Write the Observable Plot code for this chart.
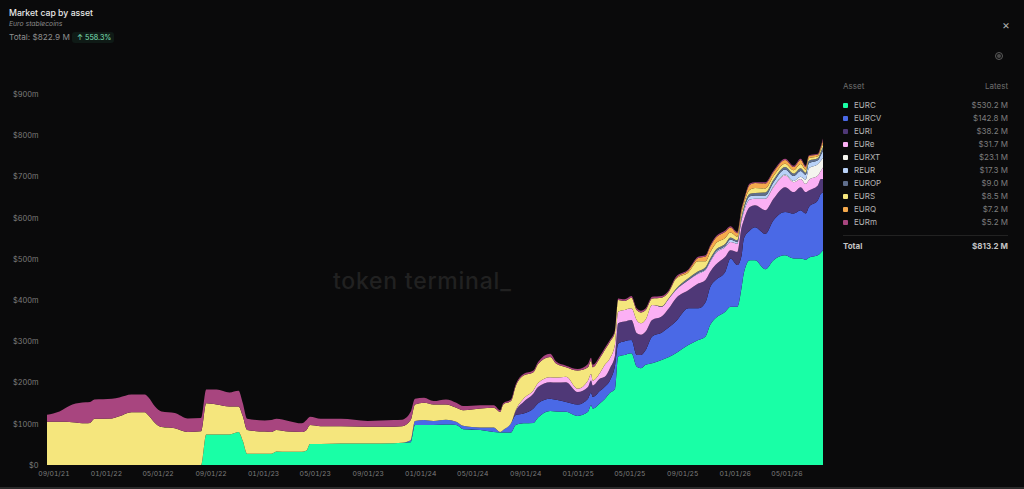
<!DOCTYPE html>
<html><head><meta charset="utf-8">
<script src="https://cdn.jsdelivr.net/npm/d3@7"></script>
<script src="https://cdn.jsdelivr.net/npm/@observablehq/plot@0.6"></script>
<style>
html,body{margin:0;padding:0;background:#0a0a0b;width:1024px;height:489px;overflow:hidden;font-family:Inter,sans-serif}
#root{position:relative;width:1024px;height:489px}
#chart{position:absolute;left:0;top:0}
#chart svg{background:transparent}
.t{position:absolute;white-space:nowrap;line-height:1}
.sw{position:absolute;width:5px;height:5px;border-radius:1px}
</style></head><body><div id="root"><div id="chart"></div></div>
<script>
const dates = [
"2021-08-17","2021-09-15","2021-10-15","2021-11-15","2021-11-25","2021-12-05","2022-01-15","2022-02-01","2022-03-01","2022-04-01",
"2022-04-10","2022-04-25","2022-05-10","2022-06-10","2022-07-10","2022-08-10","2022-08-22","2022-09-15","2022-10-15","2022-11-05",
"2022-11-15","2022-11-25","2023-01-05","2023-01-20","2023-02-01","2023-03-01","2023-04-01","2023-04-12","2023-04-20","2023-05-15",
"2023-07-01","2023-09-01","2023-11-01","2023-11-20","2023-12-10","2023-12-20","2024-01-10","2024-02-01","2024-03-01","2024-03-25",
"2024-04-10","2024-05-20","2024-06-20","2024-07-05","2024-07-12","2024-07-30","2024-08-10","2024-08-28","2024-09-20","2024-10-01",
"2024-10-29","2024-11-12","2024-12-05","2025-01-01","2025-01-25","2025-02-01","2025-02-05","2025-02-22","2025-03-05","2025-03-17",
"2025-03-29","2025-04-05","2025-04-20","2025-05-06","2025-05-18","2025-05-28","2025-06-08","2025-06-23","2025-07-15","2025-08-01",
"2025-08-17","2025-09-15","2025-10-08","2025-10-25","2025-11-05","2025-11-17","2025-12-10","2025-12-22","2026-01-07","2026-01-17",
"2026-01-22","2026-02-05","2026-02-17","2026-03-13","2026-04-01","2026-04-28","2026-05-18","2026-06-03","2026-06-15","2026-06-22",
"2026-07-13","2026-07-20","2026-07-25"];
const none = n => Array(n).fill(0);
const EURC = [...none(16),
74,74,74,80,58,27,27,27,33,32,32,35,51,51,52,52,53,54,55,97,97,97,98,97,87,85,80,79,79,79,97,101,102,115,131,130,129,119,129,145,137,150,160,175,185,263,267,271,239,235,243,247,255,262,271,291,303,312,340,356,372,384,384,432,465,497,497,475,497,509,501,501,498,503,509,515,521];
const EURCV = [...none(34),
5,10,12,10,12,8,8,6,11,1, 6,22,24,24,35,35,30,28,24,28, 32,30,28,30,30,30,58,31,33,32, 28,32,36,65,66,72,77,89,77,83, 92,92,97,117,101,77,84,72,80,86, 97,105,109,117,112,122,133,143,140];
const EURI = [...none(46),
10,28,36,39,40,42,48,30,28,30, 28,30,24,30,24,50,48,49,53,49, 45,40,39,46,56,44,60,54,37,37, 36,20,32,68,45,57,53,57,52,60, 52,56,52,41,36,36,33];
const EURe = [...none(46),
2,8,8,10,12,12,13,8,16,16, 12,14,29,24,28,28,28,28,32,28, 29,36,24,24,20,24,24,24,24,28, 24,20,20,18,20,18,16,28,28,28, 24,20,20,25,24,20,28];
const EURXT = [...none(84), 2,3,3,5,10,28,28,24,23.1];
const REUR = [...none(70), 1,1,2,2,3,3,3,6,4,5, 6,8,8,8,10,12,12,14,12,13, 9,14,17.3];
const EUROP = [...none(68), 1,1,2,4,4,5,5,5,5,5, 4,4,5,6,6,7,6,6,6,7, 5,6,5,8,9];
const EURS = [105,105,104,101,102,112,113,118,128,128, 120,102,92,89,80,82,76,73,68,62, 60,58,54,53,52,49,48,50,46,43, 42,41,40,40,49,40,42,40,37,34, 38,46,48,49,62,54,58,56,44,46, 49,34,23,44,32,32,32,36,36,40, 29,28,22,26,24,26,23,16,21,15, 24,14,24,14,15,15,14,12,9,9, 8,10,12,10,9,8,8,10,7,6, 5,6,8.5];
const EURQ = [...none(69), 1, 2,5,8,12,14,14,15,12,8,8, 7,12,12,12,10,9,8,10,7,5, 4,5,7.2];
const EURm = [17,25,43,51,51,47,48,46,43,43, 44,40,38,37,33,32,33,36,34,38, 32,27,27,29,27,26,21,24,20,18, 18,14,16,16,20,14,12,8,12,12, 10,8,6,4,3,4,4,4,4,5, 8,5,4,4,8,7,6,5,5,4, 4,4,4,4,4,4,4,4,4,3, 3,2,3,3,3,3,3,3,3,3, 2,3,2,3,3,3,3,3,3,2, 2,3,5.2];

const assets = ["EURC","EURCV","EURI","EURe","EURXT","REUR","EUROP","EURS","EURQ","EURm"];
const latest = ["$530.2 M","$142.8 M","$38.2 M","$31.7 M","$23.1 M","$17.3 M","$9.0 M","$8.5 M","$7.2 M","$5.2 M"];
const colors = ["#19ffa6","#4a69e6","#4f3877","#fbb0f4","#f4f4ee","#b9d2f8","#5f6e8c","#f5e67d","#f5a94c","#a8457f"];
const series = [EURC,EURCV,EURI,EURe,EURXT,REUR,EUROP,EURS,EURQ,EURm];
const xTicks = ["2021-09-01","2022-01-01","2022-05-01","2022-09-01","2023-01-01","2023-05-01","2023-09-01","2024-01-01","2024-05-01","2024-09-01","2025-01-01","2025-05-01","2025-09-01","2026-01-01","2026-05-01"];
const yTicks = [0,100,200,300,400,500,600,700,800,900];

const parse = d3.utcParse("%Y-%m-%d");
const rows = assets.flatMap((a,i)=>dates.map((d,j)=>({date:parse(d),asset:a,value:series[i][j]})));

const plot = Plot.plot({
  width:835,height:489,
  marginLeft:47,marginRight:12,marginTop:94,marginBottom:24,
  style:{background:"transparent",color:"#7c7c7c",fontFamily:"Inter, sans-serif"},
  x:{type:"utc",domain:[parse(dates[0]),parse(dates[dates.length-1])],label:null},
  y:{domain:[0,900],label:null},
  color:{domain:assets,range:colors},
  marks:[
    Plot.areaY(rows,{x:"date",y:"value",fill:"asset",order:assets,curve:"monotone-x"}),
    Plot.axisX({ticks:xTicks.map(parse),tickFormat:d3.utcFormat("%m/%d/%y"),tickSize:0,tickPadding:6,fontSize:6.8,label:null}),
    Plot.axisY({ticks:yTicks,tickFormat:d=>d===0?"$0":`$${d}m`,tickSize:0,tickPadding:9,fontSize:7.4,label:null})
  ]
});
document.getElementById("chart").append(plot);

const root = document.getElementById("root");
function txt(s,o){const e=document.createElement("div");e.className="t";e.textContent=s;Object.assign(e.style,o);root.append(e);return e;}
function box(o){const e=document.createElement("div");e.style.position="absolute";Object.assign(e.style,o);root.append(e);return e;}
txt("Market cap by asset",{left:"9px",top:"9px",fontSize:"8.7px",fontWeight:"500",color:"#e8e8e8"});
txt("Euro stablecoins",{left:"9px",top:"21px",fontSize:"6.8px",fontStyle:"italic",color:"#8a8a8a"});
txt("Total: $822.9 M",{left:"9px",top:"33px",fontSize:"8.2px",color:"#8e8e8e"});
txt("↑ 558.3%",{left:"72px",top:"32px",padding:"2px 3px 2px 5px",fontSize:"7.2px",color:"#7fe0b8",background:"#0f1a16",borderRadius:"3px"});
txt("×",{left:"1002px",top:"19px",fontSize:"12px",color:"#aaaaaa"});
txt("token terminal_",{left:"333px",top:"270px",fontSize:"23px",fontWeight:"500",color:"#212121",letterSpacing:"0.75px"});
box({left:"995px",top:"52px",width:"6px",height:"6px",border:"1px solid #5c5c5c",borderRadius:"50%"});
box({left:"997px",top:"54px",width:"4px",height:"4px",background:"#4a4a4a",borderRadius:"50%"});
box({left:"0",top:"487px",width:"1024px",height:"2px",background:"#2a2a2a"});

const lx=843, rr=1024-1008;
txt("Asset",{left:lx+"px",top:"82px",fontSize:"8px",color:"#6e6e6e"});
txt("Latest",{right:rr+"px",top:"82px",fontSize:"8px",color:"#6e6e6e"});
assets.forEach((a,i)=>{
  const y=105+13*i;
  const s=document.createElement("div");s.className="sw";Object.assign(s.style,{left:lx+"px",top:(y-2.5)+"px",background:colors[i]});root.append(s);
  txt(a,{left:"854px",top:(y-4)+"px",fontSize:"8px",color:"#b5b5b5"});
  txt(latest[i],{right:rr+"px",top:(y-4)+"px",fontSize:"8px",color:"#7e7e7e"});
});
box({left:lx+"px",top:"235px",width:"165px",height:"1px",background:"#222"});
txt("Total",{left:lx+"px",top:"242px",fontSize:"8px",fontWeight:"700",color:"#c4c4c4"});
txt("$813.2 M",{right:rr+"px",top:"242px",fontSize:"8px",fontWeight:"700",color:"#c4c4c4"});
</script></body></html>
